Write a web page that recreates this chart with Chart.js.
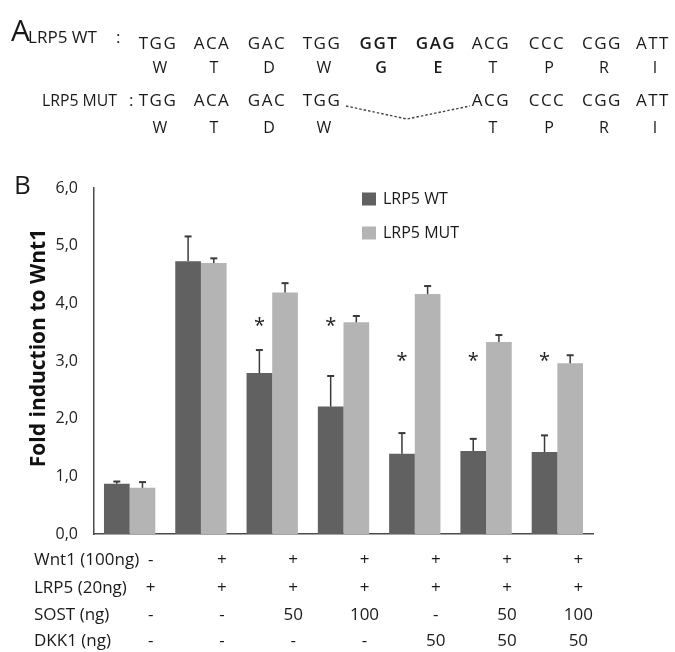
<!DOCTYPE html>
<html>
<head>
<meta charset="utf-8">
<script src="https://cdn.jsdelivr.net/npm/chart.js@4.4.1/dist/chart.umd.min.js"></script>
<style>
	html, body { margin: 0; padding: 0; background: #fff; }
	#wrap { width: 675px; height: 652px; }
</style>
</head>
<body>
<div id="wrap"><canvas id="chart" width="675" height="652"></canvas></div>
<script>
// conditions (one per bar pair)
const conditions = ['LRP5', 'Wnt1', 'SOST 50', 'SOST 100', 'DKK1 50', 'SOST 50 + DKK1 50', 'SOST 100 + DKK1 50'];

// fold induction
const wtValues = [0.87, 4.73, 2.79, 2.21, 1.39, 1.44, 1.42];
const wtErrors = [0.04, 0.43, 0.40, 0.53, 0.36, 0.21, 0.29];
const mutValues = [0.80, 4.70, 4.19, 3.67, 4.16, 3.33, 2.96];
const mutErrors = [0.10, 0.08, 0.16, 0.11, 0.14, 0.12, 0.14];

// significance marks (height in data units, null = none)
const starLevels = [null, null, 3.68, 3.68, 3.07, 3.07, 3.07];

// y axis ticks
const yTicks = [0, 1, 2, 3, 4, 5, 6];

// treatment table under the chart
const tableRows = ['Wnt1 (100ng)', 'LRP5 (20ng)', 'SOST (ng)', 'DKK1 (ng)'];
const wnt1Row = ['-', '+', '+', '+', '+', '+', '+'];
const lrp5Row = ['+', '+', '+', '+', '+', '+', '+'];
const sostRow = ['-', '-', '50', '100', '-', '50', '100'];
const dkk1Row = ['-', '-', '-', '-', '50', '50', '50'];

// panel A sequences
const wtCodons = ['TGG', 'ACA', 'GAC', 'TGG', 'GGT', 'GAG', 'ACG', 'CCC', 'CGG', 'ATT'];
const wtAmino = ['W', 'T', 'D', 'W', 'G', 'E', 'T', 'P', 'R', 'I'];
const mutCodons = ['TGG', 'ACA', 'GAC', 'TGG', null, null, 'ACG', 'CCC', 'CGG', 'ATT'];
const mutAmino = ['W', 'T', 'D', 'W', null, null, 'T', 'P', 'R', 'I'];
const deleted = [4, 5];

const WT_COLOR = '#616161';
const MUT_COLOR = '#b4b4b4';
const FONT = '"Open Sans", "DejaVu Sans", sans-serif';

// codon column centres for panel A
const codonX = [157, 211, 266, 321, 378, 435, 490, 546, 601, 652];

function drawNarrow(ctx, text, x, y, width) {
	// squeeze text horizontally to the given width
	const w = ctx.measureText(text).width;
	ctx.save();
	ctx.textAlign = 'left';
	ctx.translate(x, y);
	ctx.scale(width / w, 1);
	ctx.fillText(text, 0, 0);
	ctx.restore();
}

const panelPlugin = {
	id: 'panelExtras',
	afterDatasetsDraw(chart) {
		const ctx = chart.ctx;
		const y = chart.scales.y;

		// error bars (upper only)
		[[0, wtErrors, wtValues], [1, mutErrors, mutValues]].forEach(([di, errs, vals]) => {
			const meta = chart.getDatasetMeta(di);
			meta.data.forEach((bar, i) => {
				const top = y.getPixelForValue(vals[i] + errs[i]);
				ctx.save();
				ctx.strokeStyle = '#3a3a3a';
				ctx.lineWidth = 1.5;
				ctx.beginPath();
				ctx.moveTo(bar.x, bar.y);
				ctx.lineTo(bar.x, top);
				ctx.stroke();
				ctx.lineWidth = 2;
				ctx.beginPath();
				ctx.moveTo(bar.x - 3.5, top);
				ctx.lineTo(bar.x + 3.5, top);
				ctx.stroke();
				ctx.restore();
			});
		});

		// asterisks above WT bars
		const wtMeta = chart.getDatasetMeta(0);
		ctx.save();
		ctx.fillStyle = '#222';
		ctx.font = '20px ' + FONT;
		ctx.textAlign = 'center';
		ctx.textBaseline = 'alphabetic';
		starLevels.forEach((lvl, i) => {
			if (lvl === null) return;
			ctx.fillText('*', wtMeta.data[i].x, y.getPixelForValue(lvl) + 10);
		});
		ctx.restore();
	},
	afterDraw(chart) {
		const ctx = chart.ctx;
		const x = chart.scales.x;
		ctx.save();
		ctx.fillStyle = '#1a1a1a';

		// panel letters
		ctx.font = '30px ' + FONT;
		ctx.textAlign = 'left';
		ctx.textBaseline = 'alphabetic';
		ctx.fillText('A', 11, 41);
		ctx.font = '26px ' + FONT;
		ctx.fillText('B', 14, 194);

		// panel A labels
		ctx.textBaseline = 'middle';
		ctx.font = '17px ' + FONT;
		drawNarrow(ctx, 'LRP5 WT', 28, 38, 69);
		ctx.fillText(':', 116, 38);
		drawNarrow(ctx, 'LRP5 MUT', 42, 101, 75);
		ctx.fillText(':', 129, 101);

		// codons and amino acids
		ctx.textAlign = 'center';
		const rows = [[wtCodons, 44, wtAmino, 68], [mutCodons, 101, mutAmino, 128]];
		rows.forEach(([codons, cy, amino, ay]) => {
			codons.forEach((c, i) => {
				if (!c) return;
				const bold = deleted.includes(i) ? '600 ' : '';
				ctx.font = bold + '17px ' + FONT;
				ctx.letterSpacing = '1.5px';
				ctx.fillText(c, codonX[i] + 1, cy);
				ctx.letterSpacing = '0px';
				ctx.font = bold + '16px ' + FONT;
				ctx.fillText(amino[i], codonX[i] + 3, ay);
			});
		});

		// dotted deletion line
		ctx.strokeStyle = '#444';
		ctx.lineWidth = 1.4;
		ctx.setLineDash([2.5, 2]);
		ctx.beginPath();
		ctx.moveTo(346, 106);
		ctx.lineTo(407, 119);
		ctx.lineTo(470, 106);
		ctx.stroke();
		ctx.setLineDash([]);

		// y axis title
		ctx.save();
		ctx.translate(39, 348);
		ctx.rotate(-Math.PI / 2);
		ctx.font = 'bold 21px ' + FONT;
		ctx.textAlign = 'center';
		ctx.fillStyle = '#111';
		ctx.fillText('Fold induction to Wnt1', 0, 0);
		ctx.restore();

		// legend
		const legendY = [199, 233];
		chart.data.datasets.forEach((ds, i) => {
			ctx.fillStyle = ds.backgroundColor;
			ctx.fillRect(362, legendY[i] - 6.5, 14, 13);
			ctx.fillStyle = '#1a1a1a';
			ctx.font = '16px ' + FONT;
			ctx.textAlign = 'left';
			ctx.fillText(ds.label, 383, legendY[i]);
		});

		// treatment table
		ctx.font = '17px ' + FONT;
		const tableY = [560, 588, 615, 641];
		[wnt1Row, lrp5Row, sostRow, dkk1Row].forEach((row, r) => {
			ctx.textAlign = 'left';
			ctx.fillStyle = '#1a1a1a';
			ctx.fillText(tableRows[r], 34, tableY[r]);
			ctx.textAlign = 'center';
			row.forEach((v, i) => {
				ctx.fillText(v, x.getPixelForValue(i) + 21, tableY[r]);
			});
		});
		ctx.restore();
	}
};

new Chart(document.getElementById('chart'), {
	type: 'bar',
	data: {
		labels: conditions,
		datasets: [
			{ label: 'LRP5 WT', data: wtValues, backgroundColor: WT_COLOR },
			{ label: 'LRP5 MUT', data: mutValues, backgroundColor: MUT_COLOR },
		],
	},
	options: {
		responsive: false,
		animation: false,
		devicePixelRatio: 1,
		layout: { padding: { left: 50, top: 188, right: 82, bottom: 118 } },
		datasets: { bar: { categoryPercentage: 0.72, barPercentage: 1.0, borderWidth: 0 } },
		plugins: {
			legend: { display: false },
			tooltip: { enabled: false },
		},
		scales: {
			x: {
				grid: { display: false, drawTicks: false },
				border: { color: '#4a4a4a', width: 1.5 },
				ticks: { display: false },
				afterFit: (s) => { s.height = 0; },
			},
			y: {
				min: 0,
				max: 6,
				afterBuildTicks: (s) => { s.ticks = yTicks.map((v) => ({ value: v })); },
				grid: { display: false, drawTicks: false },
				border: { color: '#4a4a4a', width: 1.5 },
				ticks: {
					padding: 16,
					color: '#222',
					font: { family: FONT, size: 16 },
					callback: (v) => v.toFixed(1).replace('.', ','),
				},
				afterFit: (s) => { s.width = 44; },
			},
		},
	},
	plugins: [panelPlugin],
});
</script>
</body>
</html>
